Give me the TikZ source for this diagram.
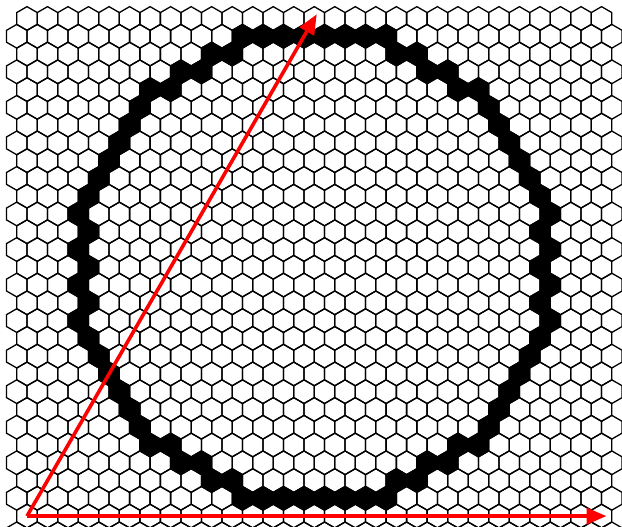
\documentclass[tikz,border=0pt]{standalone}
\usetikzlibrary{arrows.meta}
\begin{document}
\begin{tikzpicture}[x=1pt,y=-1pt,
  hexline/.style={line width=1.3pt, line join=miter, draw=black},
  vec/.style={draw=red, line width=3.6pt, shorten >=-5pt, -{Triangle[length=20pt,width=16pt]}}]
\useasboundingbox (0,0) rectangle (622,527);
\begin{scope}
\clip (0,0) rectangle (622,527);
\pgfmathsetmacro{\aa}{20.52}
\pgfmathsetmacro{\rr}{\aa/sqrt(3)}
\pgfmathsetmacro{\hh}{\aa*sqrt(3)/2}
\foreach \i in {0,...,29} {
  \pgfmathtruncatemacro{\kmax}{28+mod(\i,2)}
  \foreach \k in {0,...,\kmax} {
    \pgfmathsetmacro{\cx}{27 + \k*\aa - mod(\i,2)*\aa/2}
    \pgfmathsetmacro{\cy}{18.5 + \i*\hh}
    \pgfmathsetmacro{\dx}{\k - 14 - mod(\i,2)*0.5}
    \pgfmathsetmacro{\dy}{(14-\i)*0.8660254}
    \pgfmathsetmacro{\dd}{\dx*\dx+\dy*\dy}
    \pgfmathtruncatemacro{\blk}{(\dd>120.5 && \dd<143.5) ? 1 : 0}
    \ifnum\blk=1
      \draw[hexline, fill=black] (\cx,\cy) +(30:\rr) -- +(90:\rr) -- +(150:\rr) -- +(210:\rr) -- +(270:\rr) -- +(330:\rr) -- cycle;
    \else
      \draw[hexline] (\cx,\cy) +(30:\rr) -- +(90:\rr) -- +(150:\rr) -- +(210:\rr) -- +(270:\rr) -- +(330:\rr) -- cycle;
    \fi
  }
}
\end{scope}
\pgfmathsetmacro{\aa}{20.52}
\coordinate (O) at (27,516.1);
\coordinate (A) at ({27+28*\aa},516.1);
\coordinate (B) at ({27+14*\aa},18.5);
\draw[vec] (O) -- (A);
\draw[vec] (O) -- (B);
\end{tikzpicture}
\end{document}
